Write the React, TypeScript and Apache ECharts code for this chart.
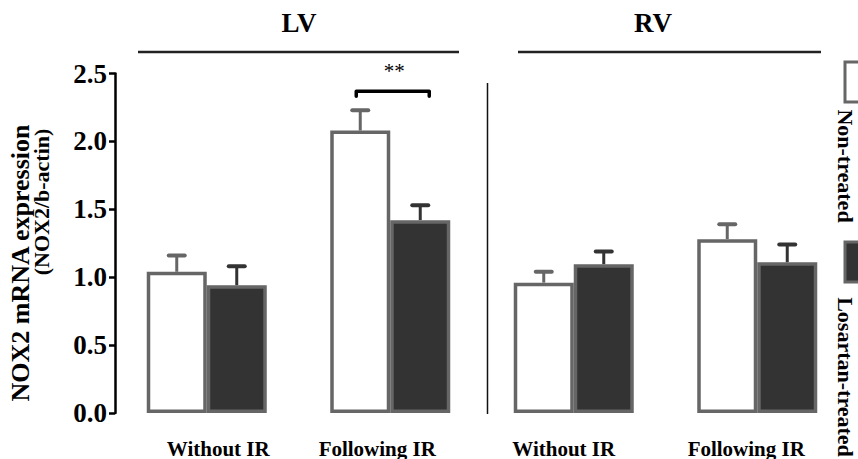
import React, { useEffect, useRef } from "react";
import * as echarts from "echarts";

// ---- data ----
const categories = ["LV|Without IR", "LV|Following IR", "RV|Without IR", "RV|Following IR"];
const nonTreated = [1.04, 2.08, 0.96, 1.28];
const nonTreatedSem = [0.12, 0.15, 0.08, 0.11];
const losartan = [0.94, 1.42, 1.095, 1.11];
const losartanSem = [0.14, 0.11, 0.095, 0.13];
const yTicks = [0, 0.5, 1.0, 1.5, 2.0, 2.5];
const bracketCategory = 1;
const bracketLevel = 2.37;
const sigLabel = "**";

const FONT = "'Liberation Serif', 'Times New Roman', serif";
const BAR_W = 60;

const labelBase = { fontFamily: FONT, fontWeight: "bold", fontSize: 21, color: "#000" };
const labelPads = [
  [0, 0, 0, 23],
  [0, 26, 0, 0],
  [0, 20, 0, 0],
  [0, 22, 0, 0],
];

function errorSeries(name: string, vals: number[], sem: number[], sign: number, color: string) {
  return {
    name,
    type: "custom",
    z: 1,
    silent: true,
    renderItem: (params: any, api: any) => {
      const x = api.value(0);
      const v = api.value(1);
      const e = api.value(2);
      const base = api.coord([x, v]);
      const top = api.coord([x, v + e]);
      const cx = base[0] + (sign * BAR_W) / 2;
      return {
        type: "group",
        children: [
          {
            type: "line",
            shape: { x1: cx, y1: base[1], x2: cx, y2: top[1] },
            style: { stroke: color, lineWidth: 3 },
          },
          {
            type: "line",
            shape: { x1: cx - 8, y1: top[1], x2: cx + 8, y2: top[1] },
            style: { stroke: color, lineWidth: 4, lineCap: "round" },
          },
        ],
      };
    },
    data: vals.map((v, i) => [i, v, sem[i]]),
  };
}

export default function App() {
  const ref = useRef<HTMLDivElement>(null);
  useEffect(() => {
    if (!ref.current) return;
    const chart = echarts.init(ref.current, undefined, { renderer: "svg" });
    const rich: any = {};
    labelPads.forEach((p, i) => {
      rich["l" + i] = { ...labelBase, padding: p };
    });
    const option: any = {
      animation: false,
      backgroundColor: "#fff",
      grid: { left: 115, right: 9, top: 73.5, bottom: 46, containLabel: false },
      xAxis: {
        type: "category",
        data: categories,
        axisLine: { show: false },
        axisTick: { show: false },
        axisLabel: {
          interval: 0,
          margin: 25,
          formatter: (v: string, idx: number) => `{l${idx}|${v.split("|")[1]}}`,
          rich,
          ...labelBase,
        },
      },
      yAxis: {
        type: "value",
        min: yTicks[0],
        max: yTicks[yTicks.length - 1],
        interval: 0.5,
        splitLine: { show: false },
        axisLine: { show: true, lineStyle: { color: "#000", width: 2.5 } },
        axisTick: { show: true, length: 6, lineStyle: { color: "#000", width: 2.5 } },
        axisLabel: {
          margin: 8,
          formatter: (v: number) => v.toFixed(1),
          fontFamily: FONT,
          fontWeight: "bold",
          fontSize: 27,
          color: "#000",
        },
      },
      series: [
        {
          name: "Non-treated",
          type: "bar",
          z: 2,
          barWidth: BAR_W,
          barGap: "0%",
          data: nonTreated,
          itemStyle: { color: "#fff", borderColor: "#666", borderWidth: 3.5 },
        },
        {
          name: "Losartan-treated",
          type: "bar",
          z: 2,
          barWidth: BAR_W,
          barGap: "0%",
          data: losartan,
          itemStyle: { color: "#333", borderColor: "#666", borderWidth: 3.5 },
        },
        errorSeries("err-non", nonTreated, nonTreatedSem, -1, "#666"),
        errorSeries("err-los", losartan, losartanSem, 1, "#333"),
        {
          name: "sig",
          type: "custom",
          z: 3,
          silent: true,
          renderItem: (params: any, api: any) => {
            const c = api.coord([api.value(0), api.value(1)]);
            const l = c[0] - 34;
            const r = c[0] + 39;
            const y = c[1];
            return {
              type: "group",
              children: [
                {
                  type: "polyline",
                  shape: { points: [[l, y + 5], [l, y], [r, y], [r, y + 5]] },
                  style: { stroke: "#000", lineWidth: 3.5, fill: "none", lineJoin: "round", lineCap: "round" },
                },
                {
                  type: "text",
                  x: c[0] + 4,
                  y: y - 20,
                  style: {
                    text: sigLabel,
                    fontFamily: FONT,
                    fontSize: 21,
                    fill: "#000",
                    align: "center",
                    verticalAlign: "middle",
                  },
                },
              ],
            };
          },
          data: [[bracketCategory, bracketLevel]],
        },
      ],
      graphic: [
        {
          type: "text",
          x: 299,
          y: 23,
          style: { text: "LV", fontFamily: FONT, fontWeight: "bold", fontSize: 27, fill: "#000", align: "center", verticalAlign: "middle" },
        },
        {
          type: "text",
          x: 653,
          y: 23,
          style: { text: "RV", fontFamily: FONT, fontWeight: "bold", fontSize: 27, fill: "#000", align: "center", verticalAlign: "middle" },
        },
        { type: "line", shape: { x1: 138, y1: 52, x2: 459, y2: 52 }, style: { stroke: "#222", lineWidth: 2.5 } },
        { type: "line", shape: { x1: 518, y1: 52, x2: 821, y2: 52 }, style: { stroke: "#222", lineWidth: 2.5 } },
        { type: "line", shape: { x1: 487.5, y1: 83, x2: 487.5, y2: 414 }, style: { stroke: "#111", lineWidth: 1.5 } },
        {
          type: "text",
          x: 20,
          y: 263,
          rotation: Math.PI / 2,
          style: { text: "NOX2 mRNA expression", fontFamily: FONT, fontWeight: "bold", fontSize: 26, fill: "#000", align: "center", verticalAlign: "middle" },
        },
        {
          type: "text",
          x: 41,
          y: 202,
          rotation: Math.PI / 2,
          style: { text: "(NOX2/b-actin)", fontFamily: FONT, fontWeight: "bold", fontSize: 22, fill: "#000", align: "center", verticalAlign: "middle" },
        },
        { type: "rect", shape: { x: 845, y: 62, width: 20, height: 40 }, style: { fill: "#fff", stroke: "#666", lineWidth: 3 } },
        {
          type: "text",
          x: 845,
          y: 166,
          rotation: -Math.PI / 2,
          style: { text: "Non-treated", fontFamily: FONT, fontWeight: "bold", fontSize: 22, fill: "#000", align: "center", verticalAlign: "middle" },
        },
        { type: "rect", shape: { x: 845, y: 242, width: 20, height: 40 }, style: { fill: "#333", stroke: "#666", lineWidth: 3 } },
        {
          type: "text",
          x: 845,
          y: 377,
          rotation: -Math.PI / 2,
          style: { text: "Losartan-treated", fontFamily: FONT, fontWeight: "bold", fontSize: 22, fill: "#000", align: "center", verticalAlign: "middle" },
        },
      ],
    };
    chart.setOption(option);
    return () => chart.dispose();
  }, []);
  return <div ref={ref} style={{ position: "absolute", left: 0, top: 0, width: 858, height: 459 }} />;
}
